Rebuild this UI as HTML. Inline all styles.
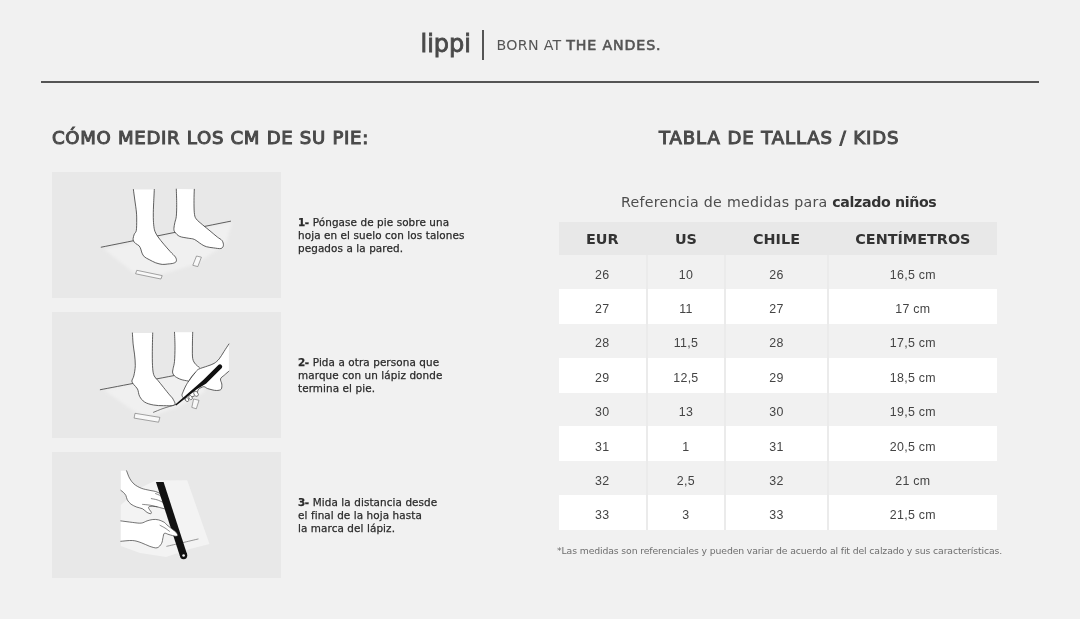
<!DOCTYPE html>
<html lang="es">
<head>
<meta charset="utf-8">
<title>Tabla de tallas Kids - Lippi</title>
<style>
*{margin:0;padding:0;box-sizing:border-box}
html,body{width:1080px;height:619px;overflow:hidden;background:#f1f1f1}
body{position:relative;font-family:"DejaVu Sans","Liberation Sans",sans-serif;color:#333;filter:grayscale(1)}
.abs{position:absolute;white-space:nowrap}
#logo{left:420.5px;top:29px;font-family:"DejaVu Sans",sans-serif;font-weight:400;font-size:24px;line-height:30px;color:#4a4a4a;letter-spacing:0px;-webkit-text-stroke:0.85px #4a4a4a}
#divider{left:482px;top:30px;width:2px;height:30px;background:#555}
#tagline{left:496.5px;top:36.2px;font-family:"DejaVu Sans",sans-serif;font-size:14.2px;line-height:18px;color:#555;letter-spacing:0.3px}
#tagline b{font-weight:400;letter-spacing:0.85px;-webkit-text-stroke:0.6px #555}
#rule{left:41px;top:81px;width:998px;height:2px;background:#555}
.h2{font-weight:400;font-size:18.1px;line-height:22px;color:#4a4a4a;letter-spacing:0.7px;-webkit-text-stroke:1.05px #4a4a4a}
#h-right{letter-spacing:0.89px}
#h-left{left:52px;top:127px}
#h-right{left:659px;top:127px}
.box{position:absolute;left:52px;width:229px;height:126px;background:#e8e8e8}
.box svg{position:absolute;left:0;top:0}
.step{position:absolute;left:298px;font-size:10.4px;line-height:12.8px;color:#2a2a2a;letter-spacing:0.1px;white-space:nowrap;-webkit-text-stroke:0.25px #2a2a2a}
.step b{font-weight:700;letter-spacing:-0.4px;margin-right:0.6px}
#sub{left:621px;top:193px;font-size:14.2px;line-height:18px;color:#4d4d4d;letter-spacing:0.27px}
#sub b{font-weight:700;color:#333;letter-spacing:-0.35px}
#tbl{position:absolute;left:559px;top:222px;width:438px}
.row{display:flex;height:34.4px}
.row.hd{height:33px}
.row.g{height:33.8px}
.row.w{height:35px}
.c{display:flex;align-items:center;justify-content:center;font-family:"Liberation Sans",sans-serif;font-size:12.4px;color:#444;padding-top:5.5px;letter-spacing:0.3px}
.c1{width:87px}.c2{width:77px;margin-left:2px}.c3{width:101px;margin-left:2px}.c4{width:169px;margin-left:2px}
.row.hd{background:#e8e8e8}
.hd .c{background:#e8e8e8;font-family:"DejaVu Sans",sans-serif;letter-spacing:0;font-weight:700;font-size:14.4px;color:#333;padding-top:0}
.g .c{background:#f1f1f1}
.w .c{background:#fff}
#seps div{position:absolute;top:255px;width:2px;height:275px;background:#ebebeb}
#note{left:557px;top:545px;font-size:9.3px;line-height:12px;color:#6e6e6e;letter-spacing:-0.125px}
</style>
</head>
<body>
<div class="abs" id="logo">lippi</div>
<div class="abs" id="divider"></div>
<div class="abs" id="tagline">BORN AT <b>THE ANDES.</b></div>
<div class="abs" id="rule"></div>

<div class="abs h2" id="h-left">CÓMO MEDIR LOS CM DE SU PIE:</div>
<div class="abs h2" id="h-right">TABLA DE TALLAS / KIDS</div>

<div class="box" id="box1" style="top:172px"><svg width="229" height="126" viewBox="52 172 229 126"><defs><filter id="bl1" x="-10%" y="-10%" width="120%" height="120%"><feGaussianBlur stdDeviation="1.6"/></filter></defs><polygon points="104.0,249.0 150.0,239.5 232.0,222.0 226.0,244.0 196.0,264.0 160.0,275.0 135.0,274.0" fill="#f0f0f0" filter="url(#bl1)"/><path d="M101.2,247.2 C122.8,242.9 209.0,225.5 230.6,221.2" fill="none" stroke="#3a3a3a" stroke-width="0.8" stroke-linecap="round"/><path d="M176.3,189.1 C176.4,191.6 176.7,199.8 176.7,204.3 C176.7,208.9 176.6,213.4 176.3,216.4 C176.0,219.4 175.3,220.4 174.9,222.4 C174.5,224.4 173.9,226.9 173.9,228.5 C173.9,230.1 173.9,230.8 174.9,232.1 C175.9,233.4 177.5,235.4 179.7,236.4 C181.9,237.4 185.8,237.7 188.2,238.2 C190.6,238.7 192.1,238.4 194.3,239.4 C196.5,240.4 199.5,243.1 201.5,244.3 C203.5,245.5 204.4,246.1 206.4,246.7 C208.4,247.3 211.3,247.6 213.7,247.9 C216.1,248.2 219.3,248.9 220.9,248.5 C222.5,248.1 223.2,246.8 223.4,245.5 C223.6,244.2 223.1,242.0 222.1,240.6 C221.1,239.2 219.3,238.6 217.3,237.0 C215.3,235.4 212.4,232.9 210.0,230.9 C207.6,228.9 205.0,226.9 202.7,224.9 C200.4,222.9 197.5,220.8 196.1,218.8 C194.7,216.8 194.7,215.7 194.3,212.7 C194.0,209.7 194.0,204.5 194.0,200.6 C194.0,196.7 194.2,191.2 194.3,189.3 Z" fill="#fff"/><path d="M176.3,189.1 C176.4,191.6 176.7,199.8 176.7,204.3 C176.7,208.9 176.6,213.4 176.3,216.4 C176.0,219.4 175.3,220.4 174.9,222.4 C174.5,224.4 173.9,226.9 173.9,228.5 C173.9,230.1 173.9,230.8 174.9,232.1 C175.9,233.4 177.5,235.4 179.7,236.4 C181.9,237.4 185.8,237.7 188.2,238.2 C190.6,238.7 192.1,238.4 194.3,239.4 C196.5,240.4 199.5,243.1 201.5,244.3 C203.5,245.5 204.4,246.1 206.4,246.7 C208.4,247.3 211.3,247.6 213.7,247.9 C216.1,248.2 219.3,248.9 220.9,248.5 C222.5,248.1 223.2,246.8 223.4,245.5 C223.6,244.2 223.1,242.0 222.1,240.6 C221.1,239.2 219.3,238.6 217.3,237.0 C215.3,235.4 212.4,232.9 210.0,230.9 C207.6,228.9 205.0,226.9 202.7,224.9 C200.4,222.9 197.5,220.8 196.1,218.8 C194.7,216.8 194.7,215.7 194.3,212.7 C194.0,209.7 194.0,204.5 194.0,200.6 C194.0,196.7 194.2,191.2 194.3,189.3" fill="none" stroke="#3a3a3a" stroke-width="0.8" stroke-linejoin="round" stroke-linecap="round"/><path d="M133.4,189.5 C133.6,191.2 134.3,196.2 134.8,200.0 C135.3,203.8 136.1,208.7 136.4,212.0 C136.7,215.3 136.7,216.9 136.7,220.0 C136.7,223.1 136.7,228.2 136.3,230.5 C135.9,232.8 134.8,232.8 134.3,234.1 C133.8,235.4 133.2,237.4 133.1,238.6 C133.0,239.8 133.1,240.2 133.5,241.0 C133.9,241.8 134.6,242.6 135.5,243.4 C136.4,244.2 138.2,244.9 139.1,245.8 C140.0,246.8 140.3,247.9 140.8,249.1 C141.3,250.3 141.4,251.8 142.0,253.1 C142.6,254.4 143.2,255.7 144.4,256.8 C145.6,257.9 147.3,258.6 149.2,259.6 C151.1,260.6 153.5,262.0 155.7,262.8 C157.9,263.6 160.2,264.2 162.2,264.4 C164.2,264.6 165.9,264.2 167.8,264.0 C169.7,263.8 172.1,263.7 173.5,263.2 C174.9,262.7 176.0,262.2 176.3,261.2 C176.6,260.2 176.5,258.8 175.5,257.2 C174.5,255.6 172.1,253.7 170.2,251.5 C168.2,249.3 165.8,246.6 163.8,244.2 C161.8,241.8 159.6,239.2 158.1,237.0 C156.6,234.8 155.6,233.3 154.9,231.3 C154.2,229.3 154.0,227.5 153.7,224.8 C153.4,222.1 153.3,218.5 153.3,215.0 C153.3,211.5 153.4,208.2 153.6,204.0 C153.8,199.8 154.2,191.9 154.3,189.5 Z" fill="#fff"/><path d="M133.4,189.5 C133.6,191.2 134.3,196.2 134.8,200.0 C135.3,203.8 136.1,208.7 136.4,212.0 C136.7,215.3 136.7,216.9 136.7,220.0 C136.7,223.1 136.7,228.2 136.3,230.5 C135.9,232.8 134.8,232.8 134.3,234.1 C133.8,235.4 133.2,237.4 133.1,238.6 C133.0,239.8 133.1,240.2 133.5,241.0 C133.9,241.8 134.6,242.6 135.5,243.4 C136.4,244.2 138.2,244.9 139.1,245.8 C140.0,246.8 140.3,247.9 140.8,249.1 C141.3,250.3 141.4,251.8 142.0,253.1 C142.6,254.4 143.2,255.7 144.4,256.8 C145.6,257.9 147.3,258.6 149.2,259.6 C151.1,260.6 153.5,262.0 155.7,262.8 C157.9,263.6 160.2,264.2 162.2,264.4 C164.2,264.6 165.9,264.2 167.8,264.0 C169.7,263.8 172.1,263.7 173.5,263.2 C174.9,262.7 176.0,262.2 176.3,261.2 C176.6,260.2 176.5,258.8 175.5,257.2 C174.5,255.6 172.1,253.7 170.2,251.5 C168.2,249.3 165.8,246.6 163.8,244.2 C161.8,241.8 159.6,239.2 158.1,237.0 C156.6,234.8 155.6,233.3 154.9,231.3 C154.2,229.3 154.0,227.5 153.7,224.8 C153.4,222.1 153.3,218.5 153.3,215.0 C153.3,211.5 153.4,208.2 153.6,204.0 C153.8,199.8 154.2,191.9 154.3,189.5" fill="none" stroke="#3a3a3a" stroke-width="0.8" stroke-linejoin="round" stroke-linecap="round"/><polygon points="136.8,270.3 162.2,275.6 160.9,279.0 135.6,273.8" fill="#f8f8f8" stroke="#6a6a6a" stroke-width="0.6"/><polygon points="196.5,256.0 201.4,257.2 197.8,266.6 192.8,265.3" fill="#f8f8f8" stroke="#6a6a6a" stroke-width="0.6"/></svg></div>
<div class="box" id="box2" style="top:312px"><svg width="229" height="126" viewBox="52 312 229 126"><defs><filter id="bl2" x="-10%" y="-10%" width="120%" height="120%"><feGaussianBlur stdDeviation="1.6"/></filter></defs><polygon points="104.0,390.0 132.0,384.0 175.0,375.5 200.0,372.0 205.0,392.0 178.0,407.0 152.0,416.0 138.0,414.0" fill="#f0f0f0" filter="url(#bl2)"/><path d="M100.3,389.7 C114.6,387.0 171.7,376.0 186.0,373.3" fill="none" stroke="#3a3a3a" stroke-width="0.8" stroke-linecap="round"/><path d="M174.5,332.3 C174.6,334.7 175.0,342.0 175.0,346.8 C175.0,351.6 174.8,357.8 174.5,361.4 C174.2,365.0 173.4,366.7 173.1,368.6 C172.8,370.5 172.3,371.7 172.7,373.0 C173.1,374.3 173.9,375.5 175.3,376.6 C176.7,377.7 179.1,378.8 181.1,379.5 C183.1,380.2 185.4,380.8 187.6,380.9 C189.8,381.0 192.1,382.3 194.0,380.0 C195.9,377.7 199.0,369.8 199.3,367.2 C199.6,364.6 196.7,365.8 195.6,364.3 C194.5,362.9 193.2,361.4 192.7,358.5 C192.2,355.6 192.4,351.2 192.4,346.8 C192.4,342.4 192.6,334.7 192.7,332.3 Z" fill="#fff"/><path d="M174.5,332.3 C174.6,334.7 175.0,342.0 175.0,346.8 C175.0,351.6 174.8,357.8 174.5,361.4 C174.2,365.0 173.4,366.7 173.1,368.6 C172.8,370.5 172.3,371.7 172.7,373.0 C173.1,374.3 173.9,375.5 175.3,376.6 C176.7,377.7 179.1,378.8 181.1,379.5 C183.1,380.2 186.5,380.7 187.6,380.9" fill="none" stroke="#3a3a3a" stroke-width="0.8" stroke-linecap="round"/><path d="M192.7,332.3 C192.6,334.7 192.4,342.4 192.4,346.8 C192.4,351.2 192.2,355.6 192.7,358.5 C193.2,361.4 194.5,362.9 195.6,364.3 C196.7,365.8 198.7,366.7 199.3,367.2" fill="none" stroke="#3a3a3a" stroke-width="0.8" stroke-linecap="round"/><path d="M132.4,333.0 C132.5,334.8 132.8,340.4 133.1,343.9 C133.4,347.4 134.1,350.5 134.5,354.1 C134.9,357.7 135.4,362.1 135.3,365.7 C135.2,369.3 134.4,373.3 133.8,375.9 C133.2,378.4 131.9,379.6 131.9,381.0 C131.9,382.4 132.9,383.3 133.8,384.6 C134.7,385.9 136.5,387.1 137.5,389.0 C138.5,390.9 138.4,394.1 139.6,396.3 C140.8,398.5 142.4,400.7 144.7,402.1 C147.0,403.6 150.3,404.4 153.5,405.0 C156.7,405.6 160.1,405.7 163.6,405.7 C167.1,405.7 172.9,406.1 174.5,405.0 C176.1,403.9 173.9,400.9 173.1,399.2 C172.3,397.5 171.1,396.8 169.5,394.8 C167.9,392.9 165.5,389.9 163.6,387.5 C161.7,385.1 159.4,382.2 157.8,380.3 C156.2,378.4 155.0,377.8 154.2,375.9 C153.3,373.9 153.0,372.2 152.7,368.6 C152.4,365.0 152.3,360.0 152.3,354.1 C152.3,348.2 152.6,336.5 152.7,333.0 Z" fill="#fff"/><path d="M132.4,333.0 C132.5,334.8 132.8,340.4 133.1,343.9 C133.4,347.4 134.1,350.5 134.5,354.1 C134.9,357.7 135.4,362.1 135.3,365.7 C135.2,369.3 134.4,373.3 133.8,375.9 C133.2,378.4 131.9,379.6 131.9,381.0 C131.9,382.4 132.9,383.3 133.8,384.6 C134.7,385.9 136.5,387.1 137.5,389.0 C138.5,390.9 138.4,394.1 139.6,396.3 C140.8,398.5 142.4,400.7 144.7,402.1 C147.0,403.6 150.3,404.4 153.5,405.0 C156.7,405.6 160.1,405.7 163.6,405.7 C167.1,405.7 172.9,406.1 174.5,405.0 C176.1,403.9 173.9,400.9 173.1,399.2 C172.3,397.5 171.1,396.8 169.5,394.8 C167.9,392.9 165.5,389.9 163.6,387.5 C161.7,385.1 159.4,382.2 157.8,380.3 C156.2,378.4 155.0,377.8 154.2,375.9 C153.3,373.9 153.0,372.2 152.7,368.6 C152.4,365.0 152.3,360.0 152.3,354.1 C152.3,348.2 152.6,336.5 152.7,333.0" fill="none" stroke="#3a3a3a" stroke-width="0.8" stroke-linejoin="round" stroke-linecap="round"/><path d="M228.9,344.0 C228.1,345.2 225.6,349.0 224.0,351.5 C222.4,354.0 220.8,356.9 219.2,358.9 C217.5,360.9 216.0,362.2 214.1,363.4 C212.2,364.6 210.2,365.0 207.6,366.0 C205.0,367.0 200.6,368.1 198.6,369.2 C196.6,370.3 196.9,370.6 195.3,372.5 C193.7,374.4 190.5,378.6 188.9,380.8 C187.3,383.1 186.7,384.2 185.7,386.0 C184.7,387.8 183.7,390.2 183.1,391.8 C182.5,393.4 181.8,394.3 182.0,395.5 C182.2,396.7 183.8,398.4 184.5,399.2 C185.2,400.0 185.6,400.1 186.2,400.2 C186.8,400.3 187.6,400.0 188.2,399.6 C188.8,399.2 189.2,398.2 189.6,397.8 C190.0,397.4 190.3,397.2 190.8,397.0 C191.3,396.8 192.2,396.8 192.8,396.6 C193.5,396.4 194.1,396.1 194.7,395.7 C195.3,395.3 196.2,394.7 196.6,394.3 C197.0,393.9 197.0,394.0 197.3,393.1 C197.6,392.2 197.5,390.3 198.6,389.2 C199.7,388.1 202.2,386.8 203.7,386.7 C205.2,386.6 206.2,388.1 207.6,388.6 C209.0,389.1 210.5,389.5 212.0,389.8 C213.5,390.1 215.2,390.6 216.7,390.5 C218.2,390.4 220.3,390.3 221.2,389.2 C222.0,388.1 221.9,385.8 221.8,384.1 C221.7,382.4 220.1,380.4 220.5,378.9 C220.9,377.4 223.1,376.3 224.5,375.0 C225.9,373.7 228.2,371.8 228.9,371.2 Z" fill="#fff"/><path d="M228.9,344.0 C228.1,345.2 225.6,349.0 224.0,351.5 C222.4,354.0 220.8,356.9 219.2,358.9 C217.5,360.9 216.0,362.2 214.1,363.4 C212.2,364.6 210.2,365.0 207.6,366.0 C205.0,367.0 200.6,368.1 198.6,369.2 C196.6,370.3 196.9,370.6 195.3,372.5 C193.7,374.4 190.5,378.6 188.9,380.8 C187.3,383.1 186.7,384.2 185.7,386.0 C184.7,387.8 183.7,390.2 183.1,391.8 C182.5,393.4 181.8,394.3 182.0,395.5 C182.2,396.7 183.8,398.4 184.5,399.2 C185.2,400.0 185.6,400.1 186.2,400.2 C186.8,400.3 187.6,400.0 188.2,399.6 C188.8,399.2 189.2,398.2 189.6,397.8 C190.0,397.4 190.3,397.2 190.8,397.0 C191.3,396.8 192.2,396.8 192.8,396.6 C193.5,396.4 194.1,396.1 194.7,395.7 C195.3,395.3 196.2,394.7 196.6,394.3 C197.0,393.9 197.0,394.0 197.3,393.1 C197.6,392.2 197.5,390.3 198.6,389.2 C199.7,388.1 202.2,386.8 203.7,386.7 C205.2,386.6 206.2,388.1 207.6,388.6 C209.0,389.1 210.5,389.5 212.0,389.8 C213.5,390.1 215.2,390.6 216.7,390.5 C218.2,390.4 220.3,390.3 221.2,389.2 C222.0,388.1 221.9,385.8 221.8,384.1 C221.7,382.4 220.1,380.4 220.5,378.9 C220.9,377.4 223.1,376.3 224.5,375.0 C225.9,373.7 228.2,371.8 228.9,371.2" fill="none" stroke="#3a3a3a" stroke-width="0.8" stroke-linejoin="round" stroke-linecap="round"/><path d="M195.3,372.5 C194.8,373.1 193.1,374.5 192.0,376.0 C190.9,377.5 189.1,380.6 188.5,381.5" fill="none" stroke="#3a3a3a" stroke-width="0.6" stroke-linecap="round"/><ellipse cx="187" cy="399.6" rx="1.6" ry="2.1" transform="rotate(-35 187 399.6)" fill="#fff" stroke="#3a3a3a" stroke-width="0.6"/><ellipse cx="190.5" cy="397.6" rx="1.6" ry="2.2" transform="rotate(-35 190.5 397.6)" fill="#fff" stroke="#3a3a3a" stroke-width="0.6"/><ellipse cx="196" cy="393.8" rx="2.0" ry="2.8" transform="rotate(-35 196 393.8)" fill="#fff" stroke="#3a3a3a" stroke-width="0.6"/><path d="M174.5,405.0 C172.6,405.6 166.5,407.3 163.0,408.5 C159.5,409.7 155.1,411.7 153.5,412.3" fill="none" stroke="#444" stroke-width="0.7" stroke-linecap="round"/><path d="M218.6,364.8 L203.0,380.2 L175.0,404.8 L176.2,405.4 L188,396.2 L196.5,389.6 L206.2,383.4 L221.8,368.0 A2.3,2.3 0 0 0 218.6,364.8 Z" fill="#111"/><polygon points="135.0,413.3 159.9,417.4 158.6,422.2 134.1,418.1" fill="#f8f8f8" stroke="#6a6a6a" stroke-width="0.6"/><polygon points="193.6,399.0 199.0,400.3 196.3,408.8 191.8,407.4" fill="#f8f8f8" stroke="#6a6a6a" stroke-width="0.6"/></svg></div>
<div class="box" id="box3" style="top:452px"><svg width="229" height="126" viewBox="52 452 229 126"><polygon points="155.5,480.5 187.2,480.3 209.5,544.0 190.0,549.0 166.0,557.0 140.0,553.0 120.8,546.0 120.8,505.0 140.0,488.0" fill="#f3f3f3"/><path d="M120.8,470.8 L126.6,470.8 C127.1,472.0 128.3,475.9 129.5,478.1 C130.7,480.3 132.0,482.2 133.9,483.9 C135.8,485.6 138.5,487.1 141.2,488.2 C143.9,489.3 147.5,489.8 149.9,490.4 C152.3,490.9 154.0,491.0 155.7,491.5 C157.4,492.0 158.7,492.5 160.0,493.5 C161.3,494.5 162.6,496.0 163.5,497.5 C164.4,499.0 165.0,500.9 165.3,502.5 C165.7,504.1 165.8,505.9 165.6,507.0 C165.4,508.1 165.2,508.7 164.4,508.8 C163.6,508.9 162.2,508.2 161.0,507.9 C159.8,507.6 158.8,507.1 157.1,506.8 C155.4,506.5 152.4,506.2 151.0,506.3 C149.6,506.4 148.8,506.6 148.6,507.2 C148.4,507.8 149.1,509.0 149.6,509.8 C150.1,510.6 151.1,511.6 151.3,512.2 C151.5,512.9 151.3,513.7 150.6,513.7 C149.9,513.7 148.3,513.2 147.0,512.4 C145.7,511.6 144.3,509.7 142.6,508.8 C140.9,507.9 138.7,507.9 136.8,507.1 C134.9,506.3 132.6,505.4 131.0,504.2 C129.4,503.0 128.2,501.3 127.3,499.9 C126.5,498.4 126.5,496.7 125.9,495.5 C125.3,494.3 124.3,493.4 123.5,492.5 C122.7,491.6 121.2,490.8 120.8,490.4 Z" fill="#fff"/><path d="M126.6,470.8 C127.1,472.0 128.3,475.9 129.5,478.1 C130.7,480.3 132.0,482.2 133.9,483.9 C135.8,485.6 138.5,487.1 141.2,488.2 C143.9,489.3 147.5,489.8 149.9,490.4 C152.3,490.9 154.0,491.0 155.7,491.5 C157.4,492.0 159.3,493.2 160.0,493.5" fill="none" stroke="#3a3a3a" stroke-width="0.7" stroke-linecap="round"/><path d="M164.4,508.8 C163.8,508.6 162.2,508.2 161.0,507.9 C159.8,507.6 158.8,507.1 157.1,506.8 C155.4,506.5 152.4,506.2 151.0,506.3 C149.6,506.4 148.8,506.6 148.6,507.2 C148.4,507.8 149.1,509.0 149.6,509.8 C150.1,510.6 151.1,511.6 151.3,512.2 C151.5,512.9 151.3,513.7 150.6,513.7 C149.9,513.7 148.3,513.2 147.0,512.4 C145.7,511.6 144.3,509.7 142.6,508.8 C140.9,507.9 138.7,507.9 136.8,507.1 C134.9,506.3 132.6,505.4 131.0,504.2 C129.4,503.0 128.2,501.3 127.3,499.9 C126.5,498.4 126.5,496.7 125.9,495.5 C125.3,494.3 124.3,493.4 123.5,492.5 C122.7,491.6 121.2,490.8 120.8,490.4" fill="none" stroke="#3a3a3a" stroke-width="0.7" stroke-linecap="round"/><path d="M155.5,493.6 C156.2,493.9 158.1,494.4 159.5,495.2 C160.9,496.0 163.1,497.7 163.8,498.2" fill="none" stroke="#3a3a3a" stroke-width="0.6" stroke-linecap="round"/><path d="M151.3,498.6 C152.2,498.8 155.0,499.2 157.0,499.8 C159.0,500.4 162.4,502.1 163.5,502.5" fill="none" stroke="#3a3a3a" stroke-width="0.6" stroke-linecap="round"/><path d="M142.6,504.4 C143.8,504.5 147.6,504.8 150.0,505.2 C152.4,505.6 155.9,506.5 157.1,506.8" fill="none" stroke="#3a3a3a" stroke-width="0.6" stroke-linecap="round"/><path d="M166.8,546.3 C169.3,545.7 176.8,544.0 182.0,542.8 C187.2,541.6 195.4,539.6 198.1,539.0" fill="none" stroke="#555" stroke-width="0.6" stroke-linecap="round"/><polygon points="155.9,482 163.6,482 187.07,554.37 180.13,556.63" fill="#111"/><circle cx="183.6" cy="555.5" r="3.65" fill="#111"/><circle cx="183.6" cy="555.5" r="1.3" fill="#f4f4f4"/><path d="M120.8,520.9 C122.7,521.1 129.0,522.0 132.4,522.4 C135.8,522.8 138.8,523.4 141.2,523.1 C143.6,522.9 145.1,521.5 147.0,520.9 C148.9,520.3 150.9,519.7 152.8,519.5 C154.7,519.3 156.7,519.4 158.6,519.9 C160.5,520.4 163.1,521.6 164.4,522.4 C165.7,523.2 165.4,523.6 166.6,524.6 C167.8,525.6 169.9,527.3 171.5,528.6 C173.1,529.9 175.0,531.1 176.0,532.2 C177.0,533.3 177.8,534.6 177.7,535.3 C177.6,536.0 176.9,536.3 175.5,536.2 C174.1,536.1 170.8,535.1 169.0,534.6 C167.2,534.1 165.4,532.8 164.4,533.3 C163.4,533.8 163.5,535.9 163.0,537.6 C162.5,539.3 162.5,541.8 161.5,543.5 C160.5,545.2 159.0,547.3 157.1,547.8 C155.2,548.3 152.6,547.2 149.9,546.4 C147.2,545.5 144.1,543.7 141.2,542.7 C138.3,541.7 135.8,540.7 132.4,540.5 C129.0,540.3 122.7,541.2 120.8,541.3 Z" fill="#fff"/><path d="M120.8,520.9 C122.7,521.1 129.0,522.0 132.4,522.4 C135.8,522.8 138.8,523.4 141.2,523.1 C143.6,522.9 145.1,521.5 147.0,520.9 C148.9,520.3 150.9,519.7 152.8,519.5 C154.7,519.3 156.7,519.4 158.6,519.9 C160.5,520.4 163.1,521.6 164.4,522.4 C165.7,523.2 165.4,523.6 166.6,524.6 C167.8,525.6 169.9,527.3 171.5,528.6 C173.1,529.9 175.0,531.1 176.0,532.2 C177.0,533.3 177.8,534.6 177.7,535.3 C177.6,536.0 176.9,536.3 175.5,536.2 C174.1,536.1 170.8,535.1 169.0,534.6 C167.2,534.1 165.4,532.8 164.4,533.3 C163.4,533.8 163.5,535.9 163.0,537.6 C162.5,539.3 162.5,541.8 161.5,543.5 C160.5,545.2 159.0,547.3 157.1,547.8 C155.2,548.3 152.6,547.2 149.9,546.4 C147.2,545.5 144.1,543.7 141.2,542.7 C138.3,541.7 135.8,540.7 132.4,540.5 C129.0,540.3 122.7,541.2 120.8,541.3" fill="none" stroke="#3a3a3a" stroke-width="0.7" stroke-linecap="round"/><path d="M160.0,525.3 C160.8,525.8 163.4,527.0 165.0,528.0 C166.6,529.0 168.8,530.8 169.5,531.3" fill="none" stroke="#3a3a3a" stroke-width="0.6" stroke-linecap="round"/></svg></div>

<div class="step" id="s1" style="top:216px"><b>1-</b> Póngase de pie sobre una<br>hoja en el suelo con los talones<br>pegados a la pared.</div>
<div class="step" id="s2" style="top:356px"><b>2-</b> Pida a otra persona que<br>marque con un lápiz donde<br>termina el pie.</div>
<div class="step" id="s3" style="top:496px"><b>3-</b> Mida la distancia desde<br>el final de la hoja hasta<br>la marca del lápiz.</div>

<div class="abs" id="sub">Referencia de medidas para <b>calzado niños</b></div>

<div id="seps"><div style="left:646px"></div><div style="left:724px"></div><div style="left:827px"></div></div>
<div id="tbl">
<div class="row hd"><div class="c c1">EUR</div><div class="c c2">US</div><div class="c c3">CHILE</div><div class="c c4">CENTÍMETROS</div></div>
<div class="row g"><div class="c c1">26</div><div class="c c2">10</div><div class="c c3">26</div><div class="c c4">16,5 cm</div></div>
<div class="row w"><div class="c c1">27</div><div class="c c2">11</div><div class="c c3">27</div><div class="c c4">17 cm</div></div>
<div class="row g"><div class="c c1">28</div><div class="c c2">11,5</div><div class="c c3">28</div><div class="c c4">17,5 cm</div></div>
<div class="row w"><div class="c c1">29</div><div class="c c2">12,5</div><div class="c c3">29</div><div class="c c4">18,5 cm</div></div>
<div class="row g"><div class="c c1">30</div><div class="c c2">13</div><div class="c c3">30</div><div class="c c4">19,5 cm</div></div>
<div class="row w"><div class="c c1">31</div><div class="c c2">1</div><div class="c c3">31</div><div class="c c4">20,5 cm</div></div>
<div class="row g"><div class="c c1">32</div><div class="c c2">2,5</div><div class="c c3">32</div><div class="c c4">21 cm</div></div>
<div class="row w"><div class="c c1">33</div><div class="c c2">3</div><div class="c c3">33</div><div class="c c4">21,5 cm</div></div>
</div>

<div class="abs" id="note">*Las medidas son referenciales y pueden variar de acuerdo al fit del calzado y sus características.</div>
</body>
</html>
